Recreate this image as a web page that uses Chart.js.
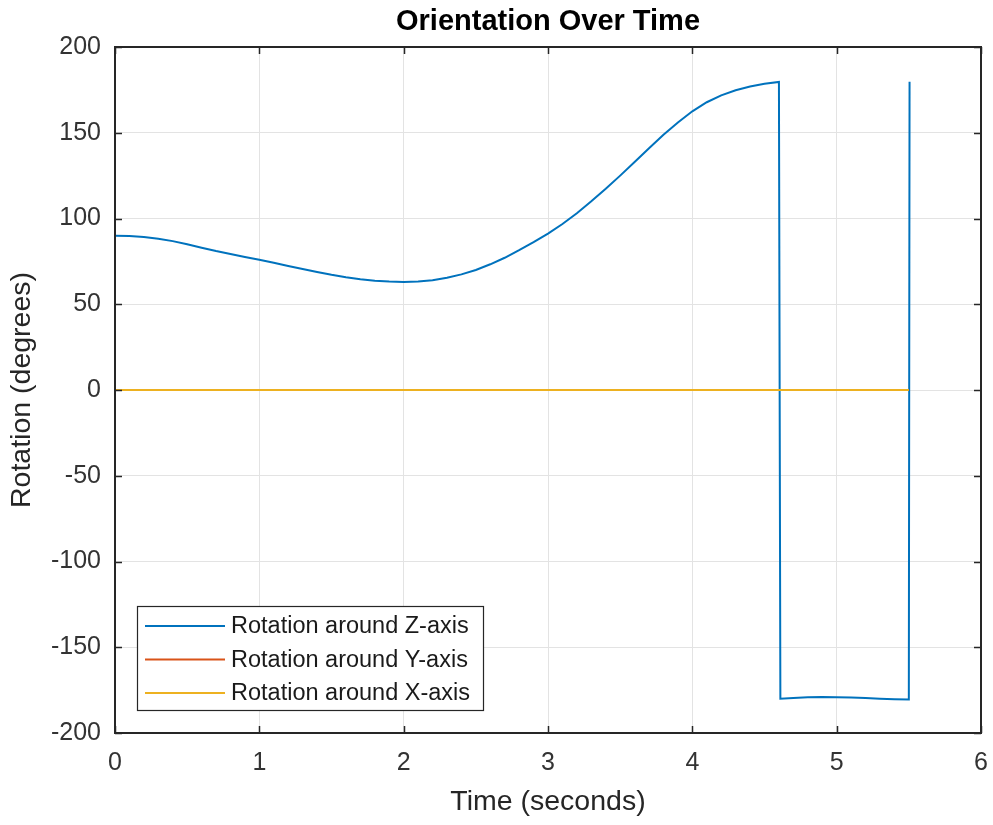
<!DOCTYPE html>
<html>
<head>
<meta charset="utf-8">
<title>Orientation Over Time</title>
<script src="https://cdn.jsdelivr.net/npm/chart.js@4.4.1/dist/chart.umd.min.js"></script>
<style>
  html, body { margin: 0; padding: 0; background: #fff; }
  #wrap { width: 993px; height: 825px; position: relative; }
</style>
</head>
<body>
<div id="wrap"><canvas id="orientationChart"></canvas></div>
<script>
// time stamps (s) and Z rotation (deg)
const zTimes = [0, 0.1, 0.2, 0.3, 0.4, 0.5, 0.6, 0.7, 0.8, 0.9,
    1.0, 1.1, 1.2, 1.3, 1.4, 1.5, 1.6, 1.7, 1.8, 1.9,
    2.0, 2.1, 2.2, 2.3, 2.4, 2.5, 2.6, 2.7, 2.8, 2.9,
    3.0, 3.1, 3.2, 3.3, 3.4, 3.5, 3.6, 3.7, 3.8, 3.9,
    4.0, 4.1, 4.2, 4.3, 4.4, 4.5, 4.6, 4.61, 4.7, 4.8, 4.9,
    5.0, 5.1, 5.2, 5.3, 5.4, 5.5, 5.505];
const zRotation = [90, 89.8, 89.2, 88.2, 86.8, 85, 83, 81, 79.3, 77.6,
    76, 74.2, 72.3, 70.5, 68.8, 67.2, 65.8, 64.6, 63.7, 63.2,
    63, 63.2, 64, 65.4, 67.4, 70, 73.3, 77.1, 81.5, 86.2,
    91.2, 96.8, 103.1, 110, 117.3, 125, 133, 141, 148.8, 156,
    162.5, 167.8, 171.8, 174.8, 177, 178.6, 179.6, -180, -179.6, -179.2, -179,
    -179.1, -179.3, -179.6, -180, -180.3, -180.5, 179.7];

const flatTimes = [0, 5.5];
const yRotation = [0, 0];
const xRotation = [0, 0];

const seriesLabels = ['Rotation around Z-axis', 'Rotation around Y-axis', 'Rotation around X-axis'];
const xTicks = [0, 1, 2, 3, 4, 5, 6];
const yTicks = [-200, -150, -100, -50, 0, 50, 100, 150, 200];

const FONT = '"Liberation Sans", Arial, Helvetica, sans-serif';
const AXIS_COLOR = '#262626';

function toPoints(xs, ys) {
    return xs.map((x, i) => ({ x: x, y: ys[i] }));
}

// box around the axes with inward tick marks, MATLAB style
const axesBox = {
    id: 'axesBox',
    afterDatasetsDraw(chart) {
        const { ctx, chartArea: a, scales } = chart;
        const len = 7;
        ctx.save();
        ctx.strokeStyle = AXIS_COLOR;
        ctx.lineWidth = 1.5;
        ctx.beginPath();
        xTicks.forEach(v => {
            const px = Math.round(scales.x.getPixelForValue(v)) + 0.5;
            ctx.moveTo(px, a.bottom); ctx.lineTo(px, a.bottom - len);
            ctx.moveTo(px, a.top); ctx.lineTo(px, a.top + len);
        });
        yTicks.forEach(v => {
            const py = Math.round(scales.y.getPixelForValue(v)) + 0.5;
            ctx.moveTo(a.left, py); ctx.lineTo(a.left + len, py);
            ctx.moveTo(a.right, py); ctx.lineTo(a.right - len, py);
        });
        ctx.stroke();
        ctx.lineWidth = 2;
        ctx.strokeRect(a.left, a.top, a.right - a.left, a.bottom - a.top);
        ctx.restore();
    }
};

// legend drawn inside the plot, bottom left
const innerLegend = {
    id: 'innerLegend',
    afterDraw(chart) {
        const { ctx, chartArea: a } = chart;
        const left = a.left + 22, bottom = a.bottom - 23;
        const w = 346, h = 104, rowH = 33.5;
        const top = bottom - h;
        ctx.save();
        ctx.fillStyle = '#fff';
        ctx.fillRect(left, top, w, h);
        ctx.strokeStyle = AXIS_COLOR;
        ctx.lineWidth = 1.2;
        ctx.strokeRect(left + 0.5, top + 0.5, w, h);
        ctx.font = '23.5px ' + FONT;
        ctx.textBaseline = 'middle';
        ctx.textAlign = 'left';
        chart.data.datasets.forEach((ds, i) => {
            const y = top + 20 + i * rowH;
            ctx.strokeStyle = ds.borderColor;
            ctx.lineWidth = 2;
            ctx.beginPath();
            ctx.moveTo(left + 8, y);
            ctx.lineTo(left + 88, y);
            ctx.stroke();
            ctx.fillStyle = '#1a1a1a';
            ctx.fillText(ds.label, left + 94, y + 1);
        });
        ctx.restore();
    }
};

new Chart(document.getElementById('orientationChart'), {
    type: 'line',
    data: {
        datasets: [{
            label: seriesLabels[0],
            data: toPoints(zTimes, zRotation),
            borderColor: 'rgb(0, 114, 189)',
            borderWidth: 2,
            order: 3
        }, {
            label: seriesLabels[1],
            data: toPoints(flatTimes, yRotation),
            borderColor: 'rgb(217, 83, 25)',
            borderWidth: 2,
            order: 2
        }, {
            label: seriesLabels[2],
            data: toPoints(flatTimes, xRotation),
            borderColor: 'rgb(237, 177, 32)',
            borderWidth: 2,
            order: 1
        }]
    },
    options: {
        responsive: true,
        maintainAspectRatio: false,
        animation: false,
        parsing: false,
        layout: { padding: { left: 0, right: 12, top: 0, bottom: 0 } },
        elements: {
            point: { radius: 0 },
            line: { tension: 0, fill: false }
        },
        plugins: {
            legend: { display: false },
            tooltip: { enabled: false },
            title: {
                display: true,
                fullSize: false,
                text: 'Orientation Over Time',
                color: '#000',
                font: { family: FONT, size: 29, weight: 'bold', lineHeight: 1.2 },
                padding: { top: 5, bottom: 7.2 }
            }
        },
        scales: {
            x: {
                type: 'linear',
                min: 0,
                max: 6,
                afterBuildTicks(scale) { scale.ticks = xTicks.map(v => ({ value: v })); },
                afterFit(scale) {
                    scale.height = 92;
                    scale.paddingLeft = 0;
                    scale.paddingRight = 0;
                },
                grid: { color: '#e3e3e3', lineWidth: 1, drawTicks: false },
                border: { display: false },
                ticks: {
                    color: '#333',
                    padding: 15,
                    font: { family: FONT, size: 25 },
                    maxRotation: 0
                },
                title: {
                    display: true,
                    text: 'Time (seconds)',
                    color: '#262626',
                    font: { family: FONT, size: 28.5, lineHeight: 1.2 },
                    padding: { top: 0, bottom: 6 }
                }
            },
            y: {
                type: 'linear',
                min: -200,
                max: 200,
                afterBuildTicks(scale) { scale.ticks = yTicks.map(v => ({ value: v })); },
                afterFit(scale) {
                    scale.width = 115;
                    scale.paddingTop = 0;
                    scale.paddingBottom = 0;
                },
                grid: { color: '#e3e3e3', lineWidth: 1, drawTicks: false },
                border: { display: false },
                ticks: {
                    color: '#333',
                    padding: 14,
                    font: { family: FONT, size: 25 }
                },
                title: {
                    display: true,
                    text: 'Rotation (degrees)',
                    color: '#262626',
                    font: { family: FONT, size: 28.5, lineHeight: 1.2 },
                    padding: { top: 5, bottom: 0 }
                }
            }
        }
    },
    plugins: [axesBox, innerLegend]
});
</script>
</body>
</html>
